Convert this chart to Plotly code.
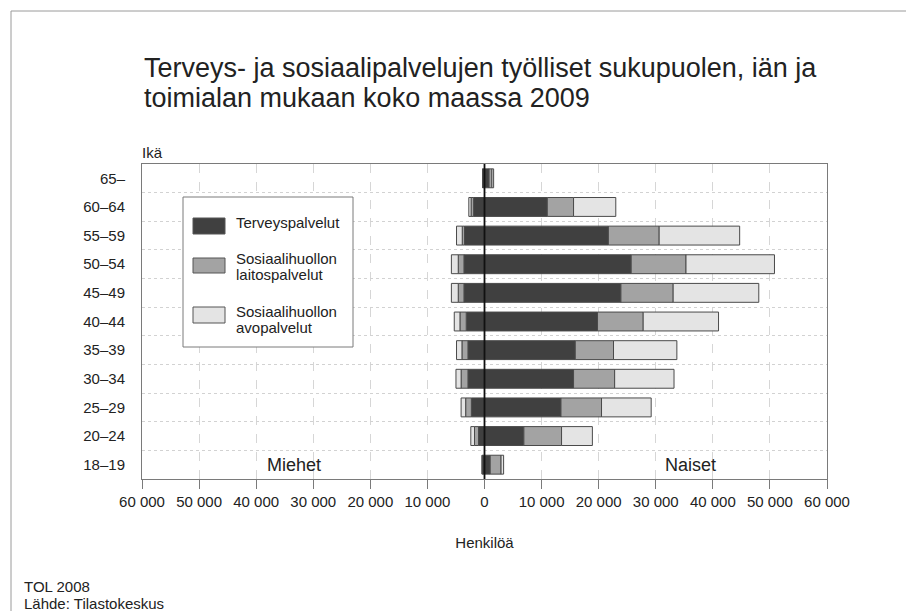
import plotly.graph_objects as go

ages = ["18–19", "20–24", "25–29", "30–34", "35–39", "40–44", "45–49", "50–54", "55–59", "60–64", "65–"]

women_terveys = [1000, 6900, 13400, 15600, 15900, 19800, 23900, 25700, 21700, 11000, 800]
women_laitos = [1900, 6600, 7100, 7200, 6700, 8000, 9150, 9600, 8900, 4600, 500]
women_avo = [450, 5400, 8700, 10400, 11100, 13200, 15000, 15500, 14100, 7400, 300]

men_terveys = [350, 1050, 2300, 2900, 2900, 3200, 3600, 3600, 3500, 1900, 300]
men_laitos = [50, 700, 1000, 1200, 1050, 1100, 1000, 1000, 400, 450, 30]
men_avo = [30, 650, 800, 900, 950, 1000, 1200, 1200, 1000, 400, 20]

series_names = ["Terveyspalvelut", "Sosiaalihuollon laitospalvelut", "Sosiaalihuollon avopalvelut"]
legend_lines = [["Terveyspalvelut"], ["Sosiaalihuollon", "laitospalvelut"], ["Sosiaalihuollon", "avopalvelut"]]
series_colors = ["#404040", "#a3a3a3", "#e4e4e4"]

tick_vals = [-60000, -50000, -40000, -30000, -20000, -10000, 0, 10000, 20000, 30000, 40000, 50000, 60000]
tick_text = ["60 000", "50 000", "40 000", "30 000", "20 000", "10 000", "0",
             "10 000", "20 000", "30 000", "40 000", "50 000", "60 000"]

title_lines = ["Terveys- ja sosiaalipalvelujen työlliset sukupuolen, iän ja",
               "toimialan mukaan koko maassa 2009"]

FONT = "Liberation Sans, Arial, sans-serif"
TXT = "#222222"

# page body margin offset (px) and figure size
OFF = 8
W, H = 906, 603
# plot area in reference-image pixels
L, R, T, B = 142, 827, 164, 479


def px(x):
    return (x - L) / (R - L)


def py(y):
    return (B - y) / (B - T)


fig = go.Figure()
women = [women_terveys, women_laitos, women_avo]
men = [men_terveys, men_laitos, men_avo]
for i in range(3):
    fig.add_trace(go.Bar(
        y=ages, x=women[i], orientation="h", name=series_names[i], showlegend=False,
        marker=dict(color=series_colors[i], line=dict(color="#4a4a4a", width=1)),
        hovertemplate="Naiset %{y}: %{x}<extra>" + series_names[i] + "</extra>",
    ))
    fig.add_trace(go.Bar(
        y=ages, x=[-v for v in men[i]], orientation="h", name=series_names[i],
        showlegend=False, customdata=men[i],
        marker=dict(color=series_colors[i], line=dict(color="#4a4a4a", width=1)),
        hovertemplate="Miehet %{y}: %{customdata}<extra>" + series_names[i] + "</extra>",
    ))

fig.update_layout(
    width=W, height=H,
    margin=dict(l=L - OFF, r=W - (R - OFF), t=T - OFF, b=H - (B - OFF), pad=0),
    paper_bgcolor="white", plot_bgcolor="white",
    barmode="relative", bargap=0.34,
    font=dict(family=FONT, size=15, color=TXT),
    xaxis=dict(range=[-60000, 60000], tickvals=tick_vals, ticktext=tick_text,
               showgrid=True, gridcolor="#d6d6d6", griddash="dash", gridwidth=1,
               zeroline=False, showline=True, linecolor="#7a7a7a", linewidth=1, mirror=True,
               ticks="outside", ticklen=9, tickcolor="#7a7a7a",
               tickfont=dict(size=15, color=TXT),
               title=dict(text="Henkilöä", font=dict(size=15, color=TXT), standoff=28)),
    yaxis=dict(type="category", categoryorder="array", categoryarray=ages,
               showgrid=True, gridcolor="#d2d2d2", griddash="dot", tickson="boundaries",
               showline=True, linecolor="#7a7a7a", linewidth=1, mirror=True,
               ticks="", tickfont=dict(size=15, color=TXT), ticklabelstandoff=13),
    showlegend=False,
)

# zero line above bars
fig.add_shape(type="line", xref="x", yref="paper", x0=0, x1=0, y0=0, y1=1,
              line=dict(color="#111111", width=1.8), layer="above")

# outer frame (left and top edges)
fig.add_shape(type="line", xref="paper", yref="paper", x0=px(11), x1=px(11), y0=py(11), y1=py(H + 40),
              line=dict(color="#9a9a9a", width=1))
fig.add_shape(type="line", xref="paper", yref="paper", x0=px(11), x1=px(W + 40), y0=py(11), y1=py(11),
              line=dict(color="#9a9a9a", width=1))

# title (two lines, placed separately for exact line spacing)
for line, yc in zip(title_lines, [68, 98]):
    fig.add_annotation(text=line, xref="paper", yref="paper", x=px(142), y=py(yc),
                       xanchor="left", yanchor="middle", showarrow=False,
                       font=dict(size=27, color=TXT))

# custom legend box
fig.add_shape(type="rect", xref="paper", yref="paper", x0=px(183), x1=px(353), y0=py(197), y1=py(347),
              fillcolor="white", line=dict(color="#7a7a7a", width=1), layer="above")
sw_y = [(218, 234), (258, 273), (307, 323)]
txt_y = [[222], [258, 274], [311, 327]]
for i in range(3):
    fig.add_shape(type="rect", xref="paper", yref="paper", x0=px(193), x1=px(225),
                  y0=py(sw_y[i][0]), y1=py(sw_y[i][1]),
                  fillcolor=series_colors[i], line=dict(color="#555555", width=1), layer="above")
    for line, yc in zip(legend_lines[i], txt_y[i]):
        fig.add_annotation(text=line, xref="paper", yref="paper", x=px(234), y=py(yc),
                           xanchor="left", yanchor="middle", showarrow=False,
                           font=dict(size=15, color=TXT))

fig.add_annotation(text="Ikä", xref="paper", yref="paper", x=px(140), y=py(153),
                   xanchor="left", yanchor="middle", showarrow=False, font=dict(size=15, color=TXT))
fig.add_annotation(text="Miehet", x=-33300, y="18–19", xref="x", yref="y",
                   showarrow=False, font=dict(size=18, color=TXT))
fig.add_annotation(text="Naiset", x=36000, y="18–19", xref="x", yref="y",
                   showarrow=False, font=dict(size=18, color=TXT))
for line, yc in zip(["TOL 2008", "Lähde: Tilastokeskus"], [586, 603]):
    fig.add_annotation(text=line, xref="paper", yref="paper", x=px(22), y=py(yc),
                       xanchor="left", yanchor="middle", showarrow=False,
                       font=dict(size=15, color=TXT))

fig.write_html("out.html")
